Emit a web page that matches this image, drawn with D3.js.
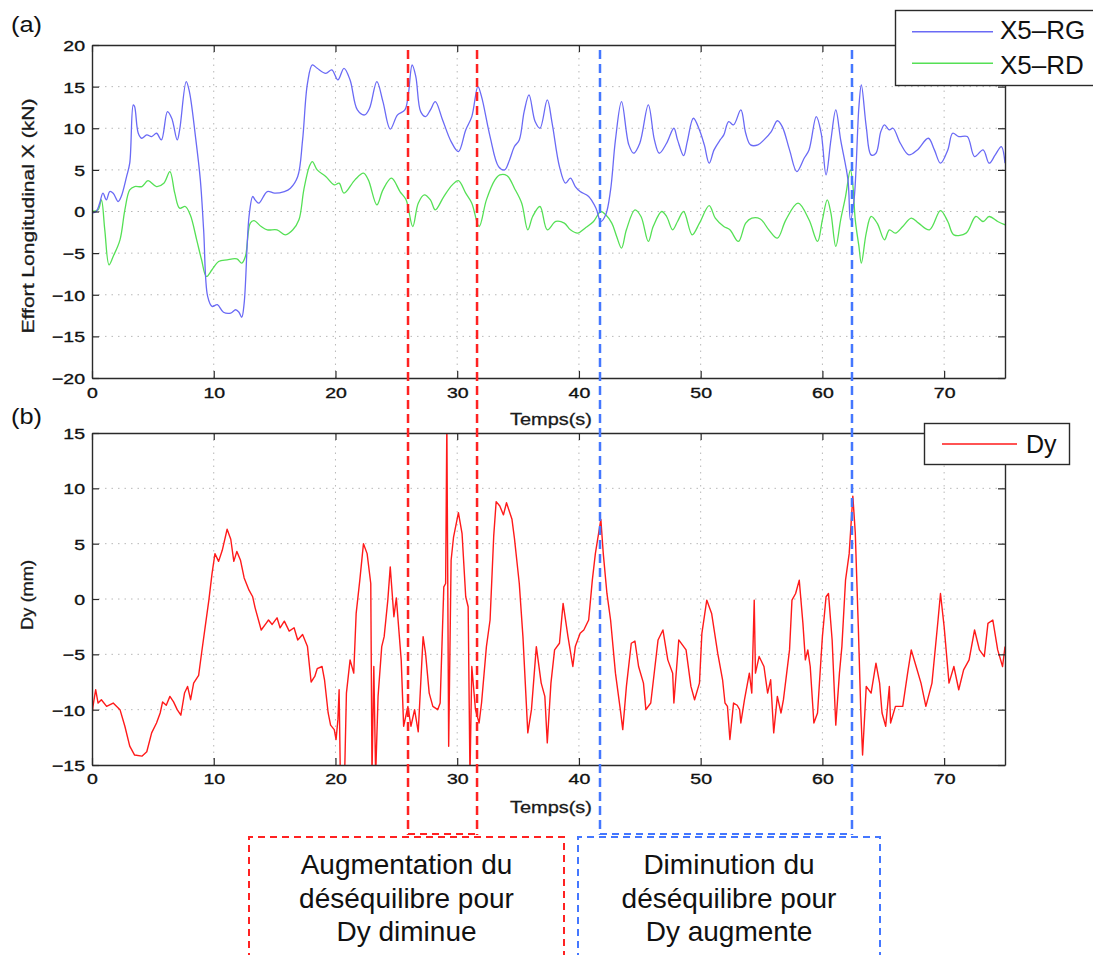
<!DOCTYPE html>
<html><head><meta charset="utf-8">
<script src="https://cdn.jsdelivr.net/npm/d3@7"></script>
<style>
body{margin:0;background:#fff}
svg{display:block;font-family:"Liberation Sans",Arial,Helvetica,sans-serif}
</style>
</head><body>
<svg id="chart" width="1093" height="955"></svg>
<script>
// ---------------- DATA ----------------
const rgTime = [0,0.35,0.63,0.9,1.18,1.46,1.74,2.15,2.4,2.84,3.1,3.39,3.5,3.8,4.08,4.5,4.9,5.3,5.7,6.2,6.55,7.0,7.2,7.74,8.0,8.5,8.9,9.17,9.5,9.86,10.3,10.8,11.4,11.8,12.07,12.3,12.5,12.9,13.2,13.4,13.7,14.4,15.0,15.8,16.3,16.9,17.3,17.7,18.1,18.5,19.2,19.7,20.2,20.7,21.2,21.8,22.4,22.8,23.4,23.9,24.5,25.1,25.7,25.98,26.3,26.6,27.0,27.4,27.8,28.2,28.8,29.5,30.1,30.7,31.2,31.7,32.0,32.7,33.4,33.9,34.3,34.7,35.1,35.5,35.9,36.4,36.8,37.4,37.8,38.4,38.9,39.3,39.7,40.1,40.8,41.4,41.8,42.2,42.6,43.0,43.5,44.1,44.5,45.0,45.7,46.2,46.6,47.2,47.8,48.1,48.6,48.9,49.4,49.9,50.3,50.7,51.1,51.6,51.9,52.3,52.7,53.3,53.7,54.1,54.7,55.2,55.8,56.3,56.7,57.3,57.9,58.5,58.9,59.5,59.9,60.3,60.7,61.1,61.5,62.1,62.3,62.6,63.0,63.2,63.6,64.0,64.4,64.8,65.1,65.5,65.8,66.4,67.1,67.8,68.7,69.2,69.7,70.3,70.7,71.2,71.9,72.5,73.2,73.7,74.2,74.7,75];
const rgValue = [-0.2,0,1,2.2,1.4,2.4,2.2,1.2,1.8,4.2,5.8,12.8,12.6,9.4,8.8,9.2,9,9.4,8.6,12,11.2,8.6,9.8,15.6,14.4,9,3.8,-2.2,-10.2,-11.4,-11.2,-12.1,-12.2,-11.8,-12.1,-12.7,-11,-0.6,1.8,1.4,1,2.4,2.2,2.4,2.8,4.2,8.6,15.4,17.6,17.2,16.6,17,15.8,17.2,15.8,12.2,11.6,12.4,15.6,13.2,9.9,11.6,12.2,14,17.6,16.2,12,11.4,12.2,13.2,11,8.4,7.2,9.8,11.4,15,13.8,9,5.4,5,6.2,7.8,8.6,12,14,10.8,10,13.4,10.6,5.4,3.4,4,3,2.4,1.8,0.4,-1.2,-0.4,2.6,8.6,13.2,8,7,8.2,12.8,8.6,7,8.2,10,8.6,6.7,8.4,11.2,9.8,8,5.8,7.4,8.6,9.2,10.8,10.4,12.2,9.4,8,8,8.6,9.6,10.9,10.2,7.4,4.8,6.4,7.4,11.4,9.4,4.4,8.6,12.2,8.6,3.8,-1,1.4,12.6,15.2,10.2,6.8,7,9.6,10.4,9.8,10,8.2,6.8,7.4,8.8,7.4,5.8,7.4,9.4,9,9,6.6,7.4,5.8,6.8,7.8,5.8];

const rdTime = [0,0.5,0.77,1.05,1.4,1.74,2.3,2.7,3.1,3.5,4.1,4.6,5.3,5.9,6.4,6.8,7.2,7.66,8.07,8.6,9.0,9.4,9.86,10.4,11.1,11.9,12.3,12.6,13.0,13.3,13.9,14.4,15.2,15.9,16.5,17.0,17.4,17.85,18.1,18.5,19.2,19.9,20.3,20.7,21.6,22.3,22.7,23.4,23.9,24.6,25.3,25.8,26.35,26.8,27.3,27.8,28.2,28.9,29.6,30.1,30.7,31.2,31.8,32.4,33.1,33.5,34.1,34.7,35.3,35.8,36.2,36.8,37.4,38.1,38.8,39.3,39.9,40.5,41.2,41.8,42.2,42.7,43.1,43.5,43.9,44.6,45.1,45.7,46.1,46.8,47.2,47.7,48.1,48.6,49.3,49.9,50.7,51.2,51.9,52.4,53.1,53.7,54.2,54.9,55.6,56.3,57.0,58.0,58.9,59.6,60.0,60.4,60.7,61.1,61.5,61.9,62.3,62.5,62.7,63.0,63.2,63.6,64.0,64.5,65.1,65.5,66.0,66.6,67.3,67.9,68.8,69.7,70.3,70.8,71.8,72.6,73.2,73.7,74.4,75];
const rdValue = [0,0.2,1.4,-2.2,-6.4,-5.4,-3.4,0.2,2.6,3,3,3.7,3,3.4,4.8,2.2,0.4,0.6,-0.4,-3.4,-5.8,-7.8,-7,-6,-5.8,-5.7,-6.2,-5.4,-1.4,-1.1,-1.8,-2.2,-2.2,-2.8,-2.2,-1,2.6,5.4,6,5,4.2,3.2,3.4,2.2,3.8,4.6,3.8,0.8,2.6,4,2.4,1.4,-1.8,1,2,1.4,0.2,1.8,3.2,3.7,2.2,1,-1.8,1.4,3.8,4.4,4.3,2.8,1,-2.2,-0.6,0.6,-2.2,-1.2,-1.4,-2.2,-2.6,-2,-1.2,0,-0.4,-1.4,-3,-4.4,-2.2,0.2,-0.6,-3.6,-1.8,0,-0.6,-2.2,-1.2,0,-2.8,-1.4,0.7,-0.8,-1.8,-2.2,-3.6,-1.4,-0.8,-0.9,-2.2,-3.2,-1,1,-1,-3.6,-1,1.4,-0.2,-4.2,-1,1.8,5,3.2,-1,-4.2,-6.2,-2.6,-0.6,-1.4,-3.4,-2.2,-2.6,-1.8,-0.8,-1.4,-2.2,0.1,-1.2,-2.8,-2.6,-0.6,-1.2,-0.6,-1.2,-1.6];

const dyTime = [0,0.08,0.3,0.5,0.77,1.2,1.74,2.3,2.7,3.1,3.5,4.1,4.5,4.9,5.3,5.6,5.8,6.1,6.4,6.7,7.0,7.3,7.6,7.85,8.1,8.35,8.76,9.0,9.3,9.6,9.86,10.1,10.4,10.7,11.1,11.4,11.65,11.9,12.2,12.5,12.9,13.2,13.4,13.9,14.3,14.5,14.8,15.2,15.45,15.8,16.2,16.6,16.9,17.3,17.7,18.0,18.3,18.5,18.9,19.1,19.4,19.6,19.9,20.05,20.2,20.3,20.4,20.6,20.75,20.9,21.2,21.5,21.7,22.0,22.3,22.6,22.9,23.0,23.15,23.3,23.5,23.8,24.0,24.3,24.5,24.8,25.0,25.4,25.6,25.95,26.2,26.5,26.8,27.2,27.4,27.7,28.0,28.4,28.6,28.9,29.05,29.15,29.3,29.5,29.7,30.1,30.4,30.7,30.9,31.05,31.2,31.5,31.8,32.0,32.4,32.7,33.0,33.2,33.5,33.8,34.05,34.5,34.7,35.1,35.4,35.8,36.1,36.5,36.9,37.2,37.4,37.7,38.0,38.4,38.7,39.1,39.5,39.7,40.1,40.4,40.8,41.1,41.35,41.8,42.0,42.3,42.6,43.0,43.4,43.6,43.9,44.3,44.6,44.9,45.3,45.5,45.9,46.5,46.9,47.3,47.7,47.8,48.2,48.8,49.2,49.5,49.9,50.1,50.5,50.9,51.4,51.8,52.0,52.2,52.4,52.7,53.0,53.2,53.3,53.6,54.0,54.2,54.4,54.5,54.8,55.2,55.5,55.75,56.0,56.3,56.6,56.8,57.3,57.5,57.8,58.1,58.4,58.6,58.8,59.0,59.3,59.6,60.0,60.3,60.5,60.8,61.1,61.4,61.6,61.9,62.2,62.5,62.7,62.95,63.15,63.3,63.6,64.0,64.4,64.7,64.9,65.2,65.5,65.6,66.0,66.6,67.0,67.3,67.7,68.1,68.5,69.0,69.5,69.7,70.0,70.4,70.8,71.2,71.6,72.05,72.5,72.9,73.3,73.6,74.0,74.4,74.8,75];
const dyValue = [-10.5,-9.7,-8.2,-9.4,-9.1,-9.7,-9.4,-10,-11.5,-13.3,-14.1,-14.2,-13.8,-12.1,-11.2,-10.3,-9.3,-9.6,-8.8,-9.3,-10,-10.5,-8.5,-7.9,-9.1,-7.6,-6.9,-4.9,-2.5,-0.1,2.3,4.1,3.4,4.4,6.3,5.4,3.4,4.3,3.5,1.9,0.8,0.2,-0.8,-2.8,-2.2,-1.9,-2.3,-1.7,-2.6,-2.0,-2.9,-2.6,-3.7,-3.2,-4.3,-7.5,-7,-6.3,-6.1,-7.3,-10.3,-11.4,-11.8,-12.7,-10.9,-8.2,-16,-16,-16,-8.5,-5.5,-6.7,-1.3,1.7,5.0,4.1,1.4,-16,-6.1,-16,-8.8,-4.3,-3.4,-0.1,2.9,-1.6,0.1,-5.5,-11.5,-9.7,-11.5,-10,-12,-3.4,-4.9,-8.5,-9.7,-10,-9.4,1.1,1.4,16,-13.3,3.5,5.6,7.8,5.9,0.2,-0.7,-16,-6.1,-10,-11.2,-9.4,-4.3,-1.9,5.7,8.8,8.4,7.6,8.7,7.2,5.5,1.4,-3.4,-12.1,-10,-4.3,-7.6,-8.8,-13,-7.6,-4.6,-4,-0.4,-3.4,-6.1,-4.3,-3.1,-2.8,-1.9,1.7,4.1,7.2,4.1,0.5,-1.9,-6.7,-10,-11.8,-7.9,-4,-3.8,-6.1,-7.6,-10,-9.4,-3.7,-2.8,-5.5,-6.7,-9.4,-3.7,-4.6,-7.9,-9.1,-7.6,-3.1,-0.1,-1.3,-4.9,-7.3,-9.4,-9.7,-12.7,-9.4,-9.6,-10,-11.2,-9.1,-6.7,-8.5,-0.1,-6.7,-5.2,-6.1,-8.5,-7.3,-12.1,-8.8,-10.3,-9.1,-4.6,-0.1,0.5,1.7,-2.2,-5.5,-4.6,-6.1,-11.2,-10.3,-3.4,0.2,0.5,-3.7,-11.4,-6.7,-4.3,1.7,4.1,9.3,6.0,-2.5,-10,-14.1,-7.9,-8.5,-5.8,-7.6,-10.3,-11.5,-7.9,-11.2,-9.7,-9.7,-6.7,-4.6,-6.1,-7.6,-9.7,-7.6,-1.9,0.5,-2.5,-7.6,-6.1,-8.2,-6.4,-5.5,-2.8,-4.6,-5.2,-2.2,-1.9,-4.6,-6.1,-4.3];

const xTickValues = [0,10,20,30,40,50,60,70];
const topYTickValues = [-20,-15,-10,-5,0,5,10,15,20];
const botYTickValues = [-15,-10,-5,0,5,10,15];
const seriesNamesTop = ["X5\u2013RG","X5\u2013RD"];
const seriesNameBot = "Dy";
const redMarkers = [25.96, 31.63];
const blueMarkers = [41.73, 62.43];
const redBoxText = ["Augmentation du","déséquilibre pour","Dy diminue"];
const blueBoxText = ["Diminution du","déséquilibre pour","Dy augmente"];

// ---------------- LAYOUT ----------------
const svg = d3.select("#chart");
const L = 92, R = 1005;
const topP = {y0:45, y1:378};
const botP = {y0:433, y1:765};
const x = d3.scaleLinear().domain([0,75]).range([L,R]);
const yTop = d3.scaleLinear().domain([-20,20]).range([topP.y1, topP.y0]);
const yBot = d3.scaleLinear().domain([-15,15]).range([botP.y1, botP.y0]);
const SX = 1.3; // horizontal stretch of tick labels

const zip = (t,v) => t.map((d,i)=>[d,v[i]]);

function styleTickText(sel) {
  sel.attr("font-size",15).attr("fill","#111").attr("stroke","#111").attr("stroke-width",0.35)
     .attr("font-family","Liberation Sans, Arial, sans-serif");
}

function panel(id, y, P, yTicks, labelBase) {
  const g = svg.append("g");
  const H = P.y1 - P.y0, W = R - L;
  g.append("g").selectAll("line").data(xTickValues.filter(d=>d>0))
    .join("line").attr("x1",d=>x(d)).attr("x2",d=>x(d)).attr("y1",P.y0).attr("y2",P.y1)
    .attr("stroke","#b8b8b8").attr("stroke-width",1).attr("stroke-dasharray","1.5,5");
  g.append("g").selectAll("line").data(yTicks.filter(d=>y(d)>P.y0+1 && y(d)<P.y1-1))
    .join("line").attr("x1",L).attr("x2",R).attr("y1",d=>y(d)).attr("y2",d=>y(d))
    .attr("stroke","#b8b8b8").attr("stroke-width",1).attr("stroke-dasharray","1.5,5");
  svg.append("clipPath").attr("id",id).append("rect").attr("x",L).attr("y",P.y0).attr("width",W).attr("height",H);
  const plot = g.append("g").attr("clip-path",`url(#${id})`);
  const ax = (gen, tr) => {
    const a = g.append("g").attr("transform",tr).call(gen);
    a.select(".domain").attr("stroke","#2a2a2a").attr("stroke-width",1.4);
    a.selectAll(".tick line").attr("stroke","#2a2a2a").attr("stroke-width",1.2);
    return a;
  };
  const bx = ax(d3.axisBottom(x).tickValues(xTickValues).tickSize(-7).tickSizeOuter(0), `translate(0,${P.y1})`);
  bx.selectAll("text").attr("y",labelBase).attr("dy",0).attr("transform",`scale(${SX},1)`).call(styleTickText);
  ax(d3.axisTop(x).tickValues(xTickValues).tickSize(-7).tickSizeOuter(0).tickFormat(""), `translate(0,${P.y0})`);
  const ly = ax(d3.axisLeft(y).tickValues(yTicks).tickSize(-7).tickSizeOuter(0), `translate(${L},0)`);
  ly.selectAll("text").attr("x",-7/SX).attr("dy","0.36em").attr("transform",`scale(${SX},1)`).call(styleTickText);
  ax(d3.axisRight(y).tickValues(yTicks).tickSize(-7).tickSizeOuter(0).tickFormat(""), `translate(${R},0)`);
  return plot;
}

// top panel
const pTop = panel("clipTop", yTop, topP, topYTickValues, 20);
const lineTop = d3.line().x(d=>x(d[0])).y(d=>yTop(d[1])).curve(d3.curveCatmullRom.alpha(0.5));
pTop.append("path").datum(zip(rdTime, rdValue)).attr("d", lineTop)
  .attr("fill","none").attr("stroke","#55e055").attr("stroke-width",1.3);
pTop.append("path").datum(zip(rgTime, rgValue)).attr("d", lineTop)
  .attr("fill","none").attr("stroke","#6a6af5").attr("stroke-width",1.3);

// bottom panel
const pBot = panel("clipBot", yBot, botP, botYTickValues, 19);
const lineBot = d3.line().x(d=>x(d[0])).y(d=>yBot(d[1]));
pBot.append("path").datum(zip(dyTime, dyValue)).attr("d", lineBot)
  .attr("fill","none").attr("stroke","#ff1a1a").attr("stroke-width",1.4).attr("stroke-linejoin","round");

// axis titles
function txt(x0,y0,s,size,opts={}) {
  const t = svg.append("text").attr("x",x0).attr("y",y0).text(s).attr("font-size",size)
    .attr("fill", opts.fill || "#1a1a1a").attr("text-anchor", opts.anchor || "start");
  if (opts.len) t.attr("textLength",opts.len).attr("lengthAdjust","spacingAndGlyphs");
  if (opts.tr) t.attr("transform",opts.tr);
  if (opts.bold) t.attr("stroke","#1a1a1a").attr("stroke-width",0.3);
  return t;
}
txt(551,425,"Temps(s)",17,{anchor:"middle",len:82,bold:true});
txt(551,813,"Temps(s)",17,{anchor:"middle",len:82,bold:true});
txt(0,0,"Effort Longitudinal X (kN)",16,{anchor:"middle",len:235,tr:"translate(34,216) rotate(-90)",bold:true});
txt(0,0,"Dy (mm)",16,{anchor:"middle",len:70,tr:"translate(33,595) rotate(-90)",bold:true});
txt(11,32,"(a)",22,{len:31,fill:"#111"});
txt(11,424,"(b)",22,{len:31,fill:"#111"});

// legends
const lg = svg.append("g");
lg.append("rect").attr("x",895.5).attr("y",10.5).attr("width",205).attr("height",75)
  .attr("fill","#fff").attr("stroke","#2a2a2a").attr("stroke-width",1.4);
[["#6a6af5",31.7,38.5],["#55e055",63.3,73.5]].forEach((c,i)=>{
  lg.append("line").attr("x1",912).attr("x2",993).attr("y1",c[1]).attr("y2",c[1]).attr("stroke",c[0]).attr("stroke-width",1.6);
  lg.append("text").attr("x",1000).attr("y",c[2]).attr("font-size",26).attr("fill","#111").text(seriesNamesTop[i]);
});
const lg2 = svg.append("g");
lg2.append("rect").attr("x",924.5).attr("y",423.5).attr("width",145).attr("height",41)
  .attr("fill","#fff").attr("stroke","#2a2a2a").attr("stroke-width",1.4);
lg2.append("line").attr("x1",942).attr("x2",1017).attr("y1",444).attr("y2",444).attr("stroke","#ff1a1a").attr("stroke-width",1.6);
lg2.append("text").attr("x",1026).attr("y",453).attr("font-size",25).attr("fill","#111").text(seriesNameBot);

// annotations
function markers(ts, color, boxX0, boxX1, lines) {
  const g = svg.append("g");
  ts.forEach(t=>{
    g.append("line").attr("x1",x(t)).attr("x2",x(t)).attr("y1",50).attr("y2",835)
      .attr("stroke",color).attr("stroke-width",2.5).attr("stroke-dasharray","9,5");
  });
  g.append("line").attr("x1",x(ts[0])).attr("x2",x(ts[1])).attr("y1",834).attr("y2",834)
    .attr("stroke",color).attr("stroke-width",2).attr("stroke-dasharray","7,5");
  g.append("path").attr("d",`M${boxX0},960 V837 H${boxX1} V960`)
    .attr("fill","none").attr("stroke",color).attr("stroke-width",2).attr("stroke-dasharray","7,5");
  const cx = (boxX0+boxX1)/2;
  lines.forEach((s,i)=>{
    svg.append("text").attr("x",cx).attr("y",874+i*33.5).attr("text-anchor","middle")
      .attr("font-size",28).attr("fill","#111").text(s);
  });
}
markers(redMarkers, "#ff2222", 249, 564, redBoxText);
markers(blueMarkers, "#4477ff", 578, 880, blueBoxText);
</script>
</body></html>
